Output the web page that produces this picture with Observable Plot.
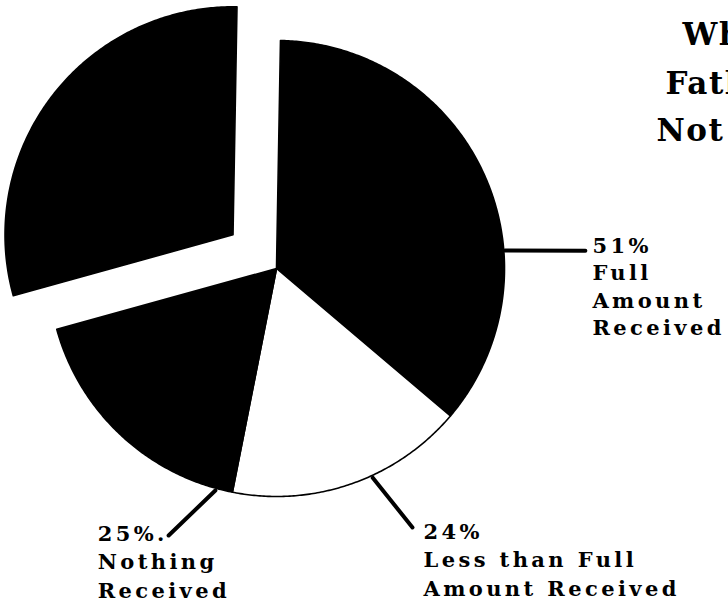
<!DOCTYPE html>
<html>
<head>
<meta charset="utf-8">
<script src="https://cdn.jsdelivr.net/npm/d3@7"></script>
<script src="https://cdn.jsdelivr.net/npm/@observablehq/plot@0.6"></script>
<style>
  html, body { margin: 0; padding: 0; background: #fff; overflow: hidden; }
  #chart text.lbl { letter-spacing: 3.4px; }
  #chart text.ttl { letter-spacing: 1.5px; }
</style>
</head>
<body>
<div id="chart"></div>
<script>
// ---- data ----
const categories = ["Full Amount Received", "Less than Full Amount Received", "Nothing Received", "Not Due Payment"];
const values = [51, 24, 25, 42];
const percentLabels = ["51%", "24%", "25%."];
const labelLines = [["Full", "Amount", "Received"], ["Less than Full", "Amount Received"], ["Nothing", "Received"]];
const sliceFills = ["#000", "#fff", "#000", "#000"];
const explodedSlice = [false, false, false, true];
const titleLines = ["What", "Fathers", "Not Paid"];

// ---- layout ----
const W = 728, H = 607;
const cx = 276, cy = 268, R = 228;
const explodePx = 55;
const deg = Math.PI / 180;

const pie = d3.pie().sort(null).startAngle(1 * deg).endAngle(361 * deg)(values);

const slices = pie.map((p, i) => {
  const mid = (p.startAngle + p.endAngle) / 2;
  const off = explodedSlice[i] ? explodePx / R : 0;
  const ox = off * Math.sin(mid), oy = off * Math.cos(mid);
  const pts = [{x: ox, y: oy}];
  const n = Math.max(2, Math.ceil((p.endAngle - p.startAngle) / (0.5 * deg)));
  for (let k = 0; k <= n; k++) {
    const a = p.startAngle + (p.endAngle - p.startAngle) * k / n;
    pts.push({x: ox + Math.sin(a), y: oy + Math.cos(a)});
  }
  return {name: categories[i], fill: sliceFills[i], points: pts};
});

// leader lines: [angle deg, radius factor] start and end (layout constants)
const leaderGeom = [
  {a0: 85.5, r0: 1.005, a1: 86.7, r1: 1.357, dx: 7, dy: -17, lh: 1.3},
  {a0: 155.3, r0: 1.01, a1: 152.3, r1: 1.283, dx: 11, dy: -9, lh: 1.36},
  {a0: 195.4, r0: 1.01, a1: 202.0, r1: 1.263, dx: -71, dy: -15, lh: 1.36}
];
const leaders = leaderGeom.map((g, i) => ({
  x1: g.r0 * Math.sin(g.a0 * deg), y1: g.r0 * Math.cos(g.a0 * deg),
  x2: g.r1 * Math.sin(g.a1 * deg), y2: g.r1 * Math.cos(g.a1 * deg),
  text: [percentLabels[i], ...labelLines[i]].join("\n"),
  dx: g.dx, dy: g.dy, lh: g.lh
}));

const titlePos = [{dx: 682, dy: 22}, {dx: 665, dy: 71}, {dx: 656, dy: 118}];

const marks = [
  ...slices.map(s => Plot.line(s.points, {
    x: "x", y: "y", fill: s.fill, stroke: "#000", strokeWidth: 1.6,
    curve: "linear-closed", strokeLinejoin: "round"
  })),
  Plot.link(leaders, {x1: "x1", y1: "y1", x2: "x2", y2: "y2", stroke: "#000", strokeWidth: 4, strokeLinecap: "round"}),
  ...leaders.map(l => Plot.text([l], {
    x: "x2", y: "y2", text: "text", dx: l.dx, dy: l.dy, textAnchor: "start", lineAnchor: "top",
    lineHeight: l.lh, fontSize: 21, fontWeight: "bold", fill: "#000", fontFamily: "DejaVu Serif", className: "lbl"
  })),
  ...titleLines.map((t, i) => Plot.text([t], {
    frameAnchor: "top-left", text: d => d, dx: titlePos[i].dx, dy: titlePos[i].dy,
    textAnchor: "start", lineAnchor: "top", fontSize: 31, fontWeight: "bold", fill: "#000", fontFamily: "DejaVu Serif", className: "ttl"
  }))
];

const chart = Plot.plot({
  width: W, height: H,
  margin: 0,
  x: {domain: [-cx / R, (W - cx) / R], axis: null},
  y: {domain: [-(H - cy) / R, cy / R], axis: null},
  style: {fontFamily: "DejaVu Serif", background: "#fff", overflow: "hidden"},
  marks
});
document.getElementById("chart").appendChild(chart);
chart.querySelectorAll("g.lbl text").forEach(t => t.classList.add("lbl"));
chart.querySelectorAll("g.ttl text").forEach(t => t.classList.add("ttl"));
</script>
</body>
</html>
